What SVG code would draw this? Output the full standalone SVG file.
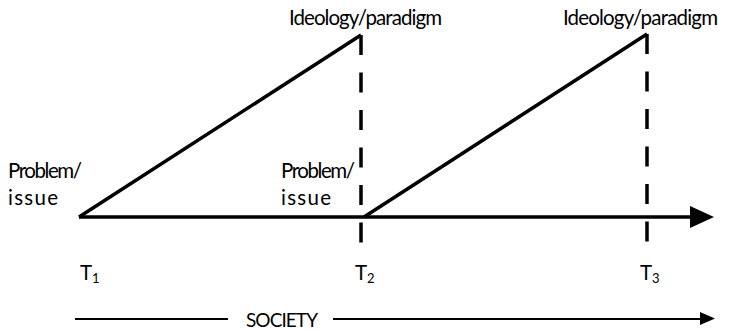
<svg xmlns="http://www.w3.org/2000/svg" width="748" height="331" viewBox="0 0 748 331">
<style>
.t{font-family:Lato,"Liberation Sans",Arial,sans-serif;font-size:20.5px;fill:#000}
.sub{font-size:13px}
.ln{stroke:#000;stroke-width:3.5;fill:none;stroke-linecap:butt}
.dash{stroke:#000;stroke-width:3.5;fill:none;stroke-dasharray:20 17.5}
.thin{stroke:#000;stroke-width:2;fill:none}
</style>
<rect width="748" height="331" fill="#fff"/>
<g id="connectors">
<line class="ln" x1="79" y1="217" x2="692" y2="217"/>
<polygon points="690,206 714,217 690,228" fill="#000"/>
<polyline class="ln" points="79,217 361,35"/>
<polyline class="ln" points="364,217 647,34"/>
<line class="dash" x1="361" y1="35" x2="361" y2="243"/>
<line class="dash" x1="647" y1="34" x2="647" y2="243"/>
<line class="thin" x1="75" y1="319" x2="228" y2="319"/>
<line class="thin" x1="333" y1="319" x2="702" y2="319"/>
<polygon points="700,312 715,318.5 700,325" fill="#000"/>
</g>
<g id="ideology1"><text class="t" x="289" y="25" textLength="153">Ideology/paradigm</text></g>
<g id="ideology2"><text class="t" x="563" y="25" textLength="155">Ideology/paradigm</text></g>
<g id="problem1"><text class="t" x="8" y="178" textLength="74">Problem/</text><text class="t" x="8" y="205" textLength="50">issue</text></g>
<g id="problem2"><text class="t" x="281" y="178" textLength="74">Problem/</text><text class="t" x="281" y="205" textLength="50">issue</text></g>
<g id="t1"><text class="t" x="80" y="280">T<tspan class="sub" dy="3">1</tspan></text></g>
<g id="t2"><text class="t" x="355" y="280">T<tspan class="sub" dy="3">2</tspan></text></g>
<g id="t3"><text class="t" x="640" y="280">T<tspan class="sub" dy="3">3</tspan></text></g>
<g id="society"><text class="t" x="246" y="327" style="font-size:19px" textLength="72">SOCIETY</text></g>
</svg>
